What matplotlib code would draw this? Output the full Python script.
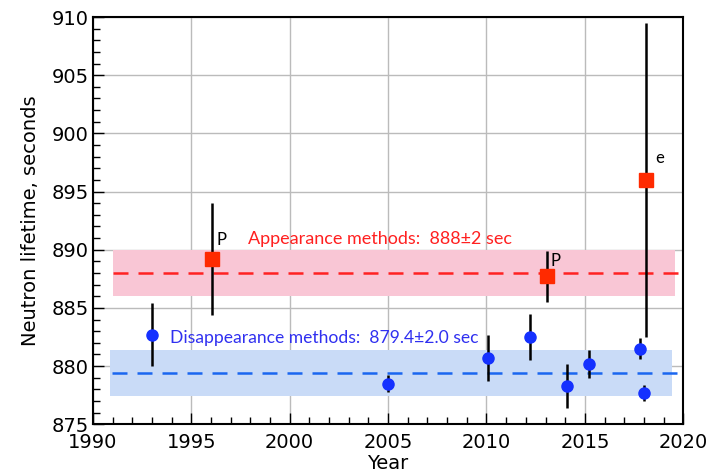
import matplotlib
matplotlib.use("Agg")
import matplotlib.pyplot as plt
from matplotlib.ticker import MultipleLocator

# disappearance (bottle) measurements
bottle_year = [1993.0, 2005.0, 2010.1, 2012.2, 2014.1, 2015.2, 2017.8, 2018.0]
bottle_tau = [882.7, 878.5, 880.7, 882.5, 878.3, 880.2, 881.5, 877.7]
bottle_err = [2.7, 0.7, 2.0, 2.0, 1.9, 1.2, 0.9, 0.7]

# appearance (beam) measurements
beam_year = [1996.05, 2013.1, 2018.1]
beam_tau = [889.2, 887.7, 896.0]
beam_err = [4.8, 2.2, 13.5]
beam_tags = ["P", "P", "e"]

beam_avg, beam_avg_err = 888.0, 2.0
bottle_avg, bottle_avg_err = 879.4, 2.0

fig = plt.figure(figsize=(7.14, 4.74), dpi=100)
ax = fig.add_axes([0.130, 0.105, 0.827, 0.859])

# bands and averages
ax.fill_between([1991.05, 2019.6], beam_avg - beam_avg_err, beam_avg + beam_avg_err,
                color="#f9c6d5", lw=0, zorder=1)
ax.fill_between([1990.85, 2019.45], bottle_avg - bottle_avg_err, bottle_avg + bottle_avg_err,
                color="#c9dbf7", lw=0, zorder=1)
ax.plot([1991.05, 2019.9], [beam_avg, beam_avg], ls=(0, (6, 4)), color="#ff2222", lw=1.8, zorder=2)
ax.plot([1990.95, 2019.8], [bottle_avg, bottle_avg], ls=(0, (6, 4)), color="#1a66f0", lw=1.8, zorder=2)

ax.errorbar(bottle_year, bottle_tau, yerr=bottle_err, fmt="o", color="#1531ff",
            ms=8, ecolor="black", elinewidth=1.8, capsize=0, zorder=4)
ax.errorbar(beam_year, beam_tau, yerr=beam_err, fmt="s", color="#ff2a00",
            ms=10, ecolor="black", elinewidth=1.8, capsize=0, zorder=3)

tag_pos = [(1996.3, 890.8), (2013.25, 889.0), (2018.6, 897.9)]
for t, (x, y) in zip(beam_tags, tag_pos):
    ax.text(x, y, t, fontsize=12, family="Lato", va="center", ha="left")

ax.text(1997.9, 890.9, "Appearance methods:  888\u00b12 sec", color="#ff2020",
        fontsize=13, family=["Lato", "DejaVu Sans"], va="center", ha="left")
ax.text(1993.9, 882.4, "Disappearance methods:  879.4\u00b12.0 sec", color="#3030f0",
        fontsize=12.6, family=["Lato", "DejaVu Sans"], va="center", ha="left")

ax.set_xlim(1990, 2020)
ax.set_ylim(875, 910)
ax.xaxis.set_major_locator(MultipleLocator(5))
ax.xaxis.set_minor_locator(MultipleLocator(1))
ax.yaxis.set_major_locator(MultipleLocator(5))
ax.yaxis.set_minor_locator(MultipleLocator(1))
ax.tick_params(which="both", direction="in", top=False, right=False, width=1.0, color="black")
ax.tick_params(which="major", length=8, labelsize=14)
ax.tick_params(which="minor", length=5)
ax.tick_params(axis="x", which="major", pad=6)
ax.tick_params(axis="y", which="major", pad=3)
ax.grid(True, which="major", color="#bbbbbb", lw=1.0, zorder=0)
ax.set_axisbelow(True)
for s in ax.spines.values():
    s.set_linewidth(1.5)

ax.set_xlabel("Year", fontsize=14, labelpad=2)
ax.set_ylabel("Neutron lifetime, seconds", fontsize=14, labelpad=8)

fig.savefig("out.png", dpi=100)
